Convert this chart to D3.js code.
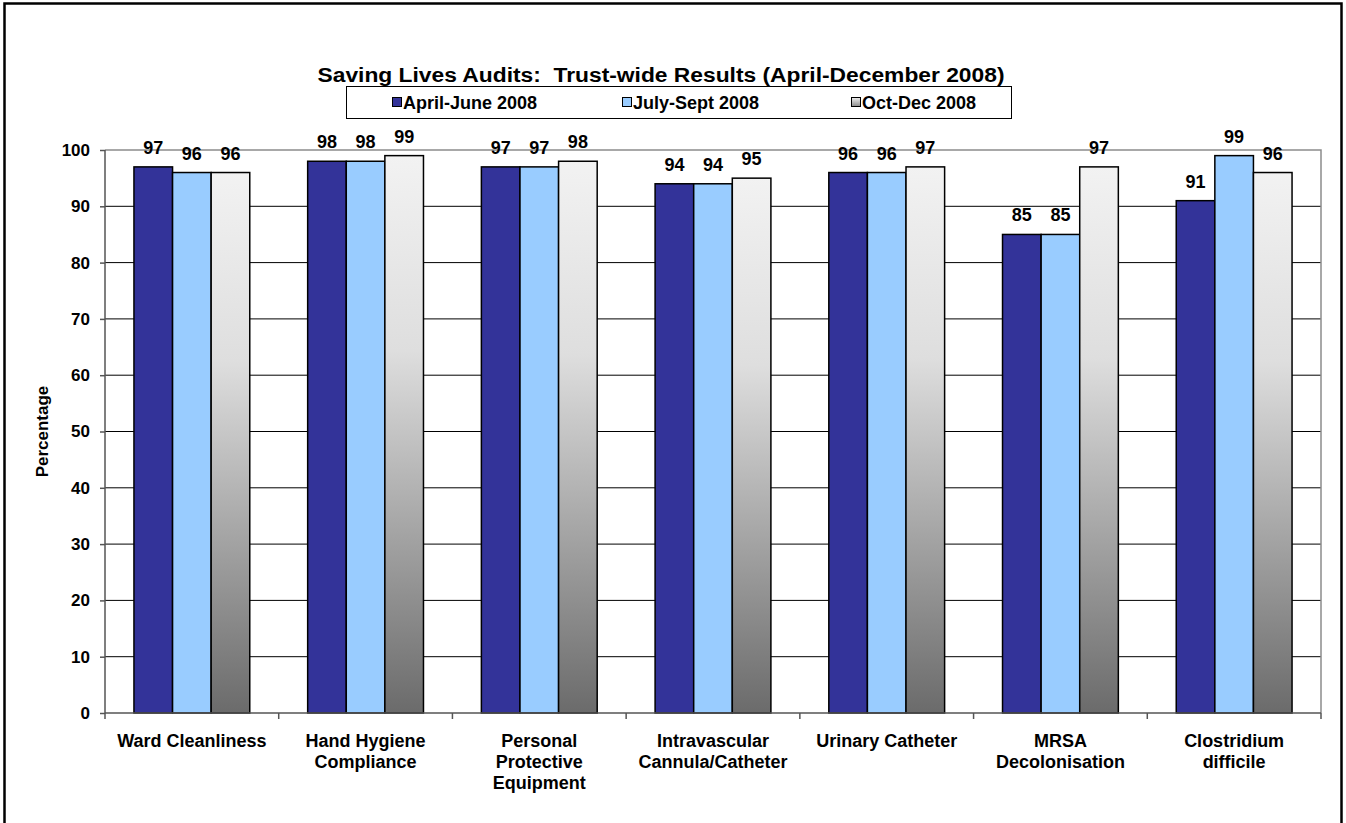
<!DOCTYPE html>
<html>
<head>
<meta charset="utf-8">
<script src="https://cdn.jsdelivr.net/npm/d3@7"></script>
<style>
  html, body { margin: 0; padding: 0; background: #fff; }
  svg { display: block; font-family: Arial, "Liberation Sans", sans-serif; }
</style>
</head>
<body>
<svg id="chart" width="1346" height="823"></svg>
<script>
// Audit areas (x categories)
const categories = [
  ["Ward Cleanliness"],
  ["Hand Hygiene", "Compliance"],
  ["Personal", "Protective", "Equipment"],
  ["Intravascular", "Cannula/Catheter"],
  ["Urinary Catheter"],
  ["MRSA", "Decolonisation"],
  ["Clostridium", "difficile"]
];
const seriesNames = ["April-June 2008", "July-Sept 2008", "Oct-Dec 2008"];
const aprJun = [97, 98, 97, 94, 96, 85, 91];
const julSep = [96, 98, 97, 94, 96, 85, 99];
const octDec = [96, 99, 98, 95, 97, 97, 96];
const yTicks = [0, 10, 20, 30, 40, 50, 60, 70, 80, 90, 100];
const titleText = "Saving Lives Audits:  Trust-wide Results (April-December 2008)";
const yLabel = "Percentage";

const series = [aprJun, julSep, octDec];
const catKeys = categories.map(c => c.join(" "));

const svg = d3.select("#chart");
const plot = { left: 105, right: 1321, top: 150, bottom: 713 };

// vertical grey gradient for the third series
const defs = svg.append("defs");
const grad = defs.append("linearGradient")
  .attr("id", "greyGrad").attr("x1", 0).attr("y1", 0).attr("x2", 0).attr("y2", 1);
grad.append("stop").attr("offset", "0%").attr("stop-color", "#f2f2f2");
grad.append("stop").attr("offset", "35%").attr("stop-color", "#dedede");
grad.append("stop").attr("offset", "100%").attr("stop-color", "#6b6b6b");
const lgrad = defs.append("linearGradient")
  .attr("id", "greySwatch").attr("x1", 0).attr("y1", 0).attr("x2", 0).attr("y2", 1);
lgrad.append("stop").attr("offset", "0%").attr("stop-color", "#f0f0f0");
lgrad.append("stop").attr("offset", "100%").attr("stop-color", "#8a8a8a");
const fills = ["#333399", "#99ccff", "url(#greyGrad)"];
const swatchFills = ["#333399", "#99ccff", "url(#greySwatch)"];

// outer frame
svg.append("rect")
  .attr("x", 4.5).attr("y", 3.5).attr("width", 1337).attr("height", 840)
  .attr("fill", "none").attr("stroke", "#000").attr("stroke-width", 2.5);

// scales
const x0 = d3.scaleBand().domain(catKeys).range([plot.left, plot.right]).padding(0);
const x1 = d3.scaleBand().domain([0, 1, 2])
  .range([x0.bandwidth() / 6, x0.bandwidth() * 5 / 6]).padding(0);
const y = d3.scaleLinear().domain([0, 100]).range([plot.bottom, plot.top]);

// gridlines
svg.append("g").selectAll("line").data(yTicks.filter(t => t > 0 && t < 100)).join("line")
  .attr("x1", plot.left).attr("x2", plot.right)
  .attr("y1", d => y(d)).attr("y2", d => y(d))
  .attr("stroke", "#000").attr("stroke-width", 1);

// plot-area border (top/right grey)
svg.append("path")
  .attr("d", `M${plot.left},${y(100)}H${plot.right}V${plot.bottom}`)
  .attr("fill", "none").attr("stroke", "#8c8c8c").attr("stroke-width", 1.5);

// bars and value labels
const groups = svg.append("g").selectAll("g").data(catKeys).join("g")
  .attr("transform", d => `translate(${x0(d)},0)`);
groups.each(function(key, ci) {
  const g = d3.select(this);
  series.forEach((s, si) => {
    const v = s[ci];
    g.append("rect")
      .attr("x", x1(si)).attr("y", y(v))
      .attr("width", x1.bandwidth()).attr("height", y(0) - y(v))
      .attr("fill", fills[si]).attr("stroke", "#000").attr("stroke-width", 1.5);
    g.append("text")
      .attr("x", x1(si) + x1.bandwidth() / 2).attr("y", y(v) - 13)
      .attr("text-anchor", "middle")
      .attr("font-size", 18).attr("font-weight", "bold")
      .text(v);
  });
});

// y axis
const yAxis = svg.append("g").attr("transform", `translate(${plot.left},0)`)
  .call(d3.axisLeft(y).tickValues(yTicks).tickSize(5).tickPadding(10));
yAxis.select(".domain").attr("stroke", "#555").attr("stroke-width", 1.5)
  .attr("d", `M0,${plot.bottom}V${plot.top}`);
yAxis.selectAll(".tick line").attr("stroke", "#555").attr("stroke-width", 1.5);
yAxis.selectAll(".tick text")
  .attr("font-size", 17).attr("font-weight", "bold").attr("fill", "#000")
  .attr("font-family", "Arial, 'Liberation Sans', sans-serif");

// x axis
const xAxis = svg.append("g").attr("transform", `translate(0,${plot.bottom})`);
xAxis.append("line").attr("x1", plot.left).attr("x2", plot.right)
  .attr("stroke", "#555").attr("stroke-width", 1.5);
const bounds = catKeys.map(k => x0(k)).concat([plot.right]);
xAxis.selectAll("line.tk").data(bounds).join("line").attr("class", "tk")
  .attr("x1", d => d).attr("x2", d => d).attr("y1", 0).attr("y2", 6)
  .attr("stroke", "#555").attr("stroke-width", 1.5);
const catLabels = xAxis.selectAll("text.cat").data(categories).join("text")
  .attr("class", "cat")
  .attr("x", (d, i) => x0(catKeys[i]) + x0.bandwidth() / 2)
  .attr("y", 34)
  .attr("text-anchor", "middle")
  .attr("font-size", 18).attr("font-weight", "bold");
catLabels.each(function(lines) {
  const t = d3.select(this);
  const xx = t.attr("x");
  lines.forEach((ln, i) => {
    t.append("tspan").attr("x", xx).attr("dy", i === 0 ? 0 : 21).text(ln);
  });
});

// y axis title
svg.append("text")
  .attr("transform", `translate(48,${(plot.top + plot.bottom) / 2}) rotate(-90)`)
  .attr("text-anchor", "middle")
  .attr("font-size", 17).attr("font-weight", "bold")
  .text(yLabel);

// chart title
svg.append("text")
  .attr("x", 661).attr("y", 82)
  .attr("text-anchor", "middle")
  .attr("font-size", 20).attr("font-weight", "bold")
  .style("white-space", "pre")
  .attr("textLength", 687).attr("lengthAdjust", "spacingAndGlyphs")
  .text(titleText);

// legend
const legend = svg.append("g");
legend.append("rect")
  .attr("x", 346.5).attr("y", 86.5).attr("width", 665).attr("height", 32)
  .attr("fill", "#fff").attr("stroke", "#000").attr("stroke-width", 1);
const legX = [392, 622, 851];
seriesNames.forEach((name, i) => {
  legend.append("rect")
    .attr("x", legX[i] + 0.5).attr("y", 97.5).attr("width", 9).attr("height", 9)
    .attr("fill", swatchFills[i]).attr("stroke", "#000").attr("stroke-width", 1);
  legend.append("text")
    .attr("x", legX[i] + 11).attr("y", 108.5)
    .attr("font-size", 18).attr("font-weight", "bold")
    .text(name);
});
</script>
</body>
</html>
